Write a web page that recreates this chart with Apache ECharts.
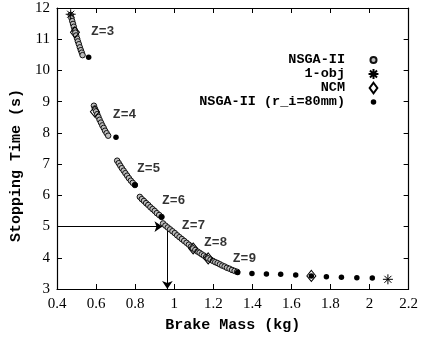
<!DOCTYPE html>
<html><head><meta charset="utf-8">
<script src="https://cdn.jsdelivr.net/npm/echarts@6/dist/echarts.min.js"></script>
<style>html,body{margin:0;padding:0;background:#fff}#c{width:421px;height:339px}</style>
</head><body><div id="c"></div>
<script>
// Brake mass (kg) vs stopping time (s): NSGA-II fronts, one chain per disc count Z
const nsgaZ3 = [[0.470,11.78],[0.474,11.68],[0.478,11.58],[0.482,11.49],[0.486,11.40],[0.490,11.30],[0.494,11.21],[0.498,11.12],[0.503,11.02],[0.507,10.93],[0.512,10.84],[0.517,10.74],[0.522,10.65],[0.527,10.57],[0.531,10.49]];
const nsgaZ4 = [[0.589,8.87],[0.594,8.78],[0.600,8.69],[0.606,8.60],[0.612,8.51],[0.618,8.42],[0.625,8.33],[0.632,8.24],[0.639,8.16],[0.646,8.07],[0.654,7.99],[0.662,7.91]];
const nsgaZ5 = [[0.708,7.11],[0.716,7.03],[0.724,6.95],[0.732,6.87],[0.741,6.79],[0.750,6.71],[0.759,6.63],[0.768,6.55],[0.778,6.47],[0.788,6.40],[0.799,6.33]];
const nsgaZ6 = [[0.824,5.95],[0.834,5.88],[0.845,5.82],[0.856,5.75],[0.867,5.69],[0.878,5.62],[0.889,5.56],[0.900,5.50],[0.911,5.43],[0.923,5.37],[0.935,5.31]];
const nsgaZ7to9 = [[0.943,5.10],[0.955,5.03],[0.967,4.97],[0.979,4.91],[0.991,4.85],[1.003,4.79],[1.015,4.72],[1.027,4.66],[1.039,4.60],[1.051,4.54],[1.063,4.48],[1.075,4.42],[1.086,4.36],[1.097,4.30],[1.108,4.25],[1.119,4.20],[1.130,4.16],[1.141,4.11],[1.152,4.07],[1.163,4.02],[1.174,3.98],[1.186,3.94],[1.198,3.90],[1.210,3.86],[1.222,3.83],[1.234,3.79],[1.246,3.75],[1.258,3.72],[1.270,3.68],[1.283,3.65],[1.296,3.61],[1.309,3.58],[1.322,3.55]];
const oneObj = [[0.470,11.80],[2.094,3.31]];
const ncm = [[0.492,11.22],[0.594,8.68],[1.097,4.30],[1.174,3.98],[1.702,3.42]];
const nsgaR80 = [[0.562,10.42],[0.702,7.86],[0.799,6.33],[0.935,5.31],[1.325,3.53],[1.398,3.50],[1.472,3.48],[1.545,3.47],[1.622,3.45],[1.702,3.42],[1.779,3.39],[1.856,3.38],[1.935,3.36],[2.014,3.35]];
const zLabels = [['Z=3',0.574,11.23],['Z=4',0.686,8.57],['Z=5',0.809,6.84],['Z=6',0.937,5.82],['Z=7',1.039,5.02],['Z=8',1.152,4.48],['Z=9',1.300,3.98]];
const guideArrows = [[[0.4,5.0],[0.94,5.0]],[[0.965,5.0],[0.965,3.0]]];
const seriesNames = ['NSGA-II','1-obj','NCM','NSGA-II (r_i=80mm)'];

const MONO = '"Liberation Mono","DejaVu Sans Mono",monospace';
const SERIF = '"Liberation Serif","DejaVu Serif",serif';
const STAR = 'path://M5,0L5,10M0,5L10,5M1.5,1.5L8.5,8.5M1.5,8.5L8.5,1.5';
// legend glyphs drawn inside a 20x20 box so each keeps its own size
const BOX = 'M0,0L0,0M20,20L20,20';
const legendIcons = [
  'path://' + BOX + 'M10,4.5A5.5,5.5,0,1,1,10,15.5A5.5,5.5,0,1,1,10,4.5Z',
  'path://' + BOX + 'M10,1L10,19M1,10L19,10M3.6,3.6L16.4,16.4M3.6,16.4L16.4,3.6',
  'path://' + BOX + 'M10,0.5L17,10L10,19.5L3,10Z',
  'path://' + BOX + 'M10,5A5,5,0,1,1,10,15A5,5,0,1,1,10,5Z'
];

function frameAxis(pos, base) {
  return Object.assign({
    type: 'value', position: pos,
    axisLine: {show: true, onZero: false, lineStyle: {color: '#000', width: 1.2}},
    axisTick: {show: true, inside: true, length: 5, lineStyle: {color: '#000', width: 1}},
    splitLine: {show: false}
  }, base);
}

const chart = echarts.init(document.getElementById('c'), null, {renderer: 'canvas'});
chart.setOption({
  animation: false,
  backgroundColor: '#fff',
  grid: {left: 57, right: 12, top: 8, bottom: 50},
  xAxis: [
    frameAxis('bottom', {min: 0.4, max: 2.2, interval: 0.2,
      name: 'Brake Mass (kg)', nameLocation: 'middle', nameGap: 29,
      nameTextStyle: {fontFamily: MONO, fontWeight: 'bold', fontSize: 15, color: '#000'},
      axisLabel: {fontFamily: SERIF, fontSize: 15, color: '#000', margin: 8}}),
    frameAxis('top', {min: 0.4, max: 2.2, interval: 0.2, axisLabel: {show: false}})
  ],
  yAxis: [
    frameAxis('left', {min: 3, max: 12, interval: 1,
      name: 'Stopping Time (s)', nameLocation: 'middle', nameGap: 32,
      nameTextStyle: {fontFamily: MONO, fontWeight: 'bold', fontSize: 15, color: '#000', padding: [0, 34, 0, 0]},
      axisLabel: {fontFamily: SERIF, fontSize: 15, color: '#000', margin: 7}}),
    frameAxis('right', {min: 3, max: 12, interval: 1, axisLabel: {show: false}})
  ],
  legend: {
    orient: 'vertical', align: 'right', right: 36, top: 48,
    itemWidth: 11, itemHeight: 11, itemGap: 0, selectedMode: false,
    textStyle: {fontFamily: MONO, fontWeight: 'bold', fontSize: 13.5, color: '#000', lineHeight: 12, padding: [0, 18, 0, 0]},
    data: seriesNames.map((n, i) => ({name: n, icon: legendIcons[i]}))
  },
  series: [
    {name: seriesNames[0], type: 'scatter', symbol: 'circle', symbolSize: 5.5,
      itemStyle: {color: '#bdbdbd', borderColor: '#111', borderWidth: 1, opacity: 1},
      data: [].concat(nsgaZ3, nsgaZ4, nsgaZ5, nsgaZ6, nsgaZ7to9), z: 2},
    {name: seriesNames[3], type: 'scatter', symbol: 'circle', symbolSize: 5.5,
      itemStyle: {color: '#000', opacity: 1}, data: nsgaR80, z: 3},
    {name: seriesNames[2], type: 'scatter', symbol: 'diamond', symbolSize: [9, 11],
      itemStyle: {color: 'transparent', borderColor: '#000', borderWidth: 1, opacity: 1}, data: ncm, z: 4},
    {name: seriesNames[1], type: 'scatter', symbol: STAR, symbolSize: 10,
      itemStyle: {color: 'transparent', borderColor: '#000', borderWidth: 1, opacity: 1}, data: oneObj, z: 5},
    {type: 'lines', coordinateSystem: 'cartesian2d', silent: true, z: 1,
      symbol: ['none', 'arrow'], symbolSize: [0, 8],
      lineStyle: {color: '#000', width: 1, opacity: 1},
      data: guideArrows.map(c => ({coords: c}))},
    {type: 'scatter', silent: true, symbolSize: 0, z: 6,
      label: {show: true, position: 'right', distance: 0, formatter: p => p.name,
        fontFamily: MONO, fontWeight: 'bold', fontSize: 13, color: '#000'},
      data: zLabels.map(([t, x, y]) => ({name: t, value: [x, y]}))}
  ]
});
</script></body></html>
